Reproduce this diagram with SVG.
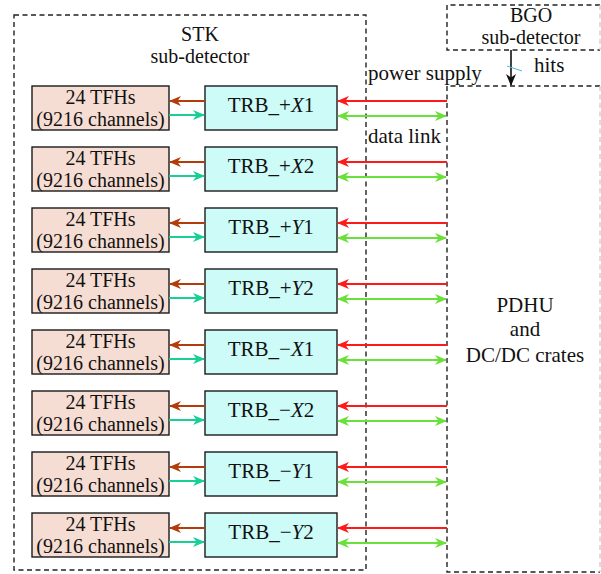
<svg xmlns="http://www.w3.org/2000/svg" width="601" height="574" viewBox="0 0 601 574" font-family="Liberation Serif, Times New Roman, Tinos, Noto Serif, DejaVu Serif, FreeSerif, serif">
  <style>
    text { font-family: "Liberation Serif", "Times New Roman", Tinos, "Noto Serif", "DejaVu Serif", FreeSerif, serif; font-size: 21px; fill: #111; }
    .c { text-anchor: middle; }
    .s { font-size: 20px; }
    .it { font-style: italic; }
    .dash { fill: none; stroke: #222; stroke-width: 1.4; stroke-dasharray: 5 3.5; }
    .dashlite { fill: none; stroke: #cfcfcf; stroke-width: 1.4; stroke-dasharray: 5 3.5; }
    .tfh { fill: #f6ddd3; stroke: #1a1a1a; stroke-width: 1.4; }
    .trb { fill: #cdfbf8; stroke: #1a1a1a; stroke-width: 1.4; }
    .ctrl { stroke: #b23c0a; stroke-width: 1.8; fill: none; }
    .hitl { stroke: #16d096; stroke-width: 1.8; fill: none; }
    .pwr { stroke: #ff1a1a; stroke-width: 1.8; fill: none; }
    .dat { stroke: #6ae03a; stroke-width: 1.8; fill: none; }
  </style>
  <defs>
    <marker id="aBrown" viewBox="0 0 12 10" refX="11" refY="5" markerWidth="12" markerHeight="10" markerUnits="userSpaceOnUse" orient="auto-start-reverse">
      <path d="M0,0 L12,5 L0,10 L3.5,5 z" fill="#b23c0a"/>
    </marker>
    <marker id="aTeal" viewBox="0 0 12 10" refX="11" refY="5" markerWidth="12" markerHeight="10" markerUnits="userSpaceOnUse" orient="auto-start-reverse">
      <path d="M0,0 L12,5 L0,10 L3.5,5 z" fill="#16d096"/>
    </marker>
    <marker id="aRed" viewBox="0 0 12 10" refX="11" refY="5" markerWidth="12" markerHeight="10" markerUnits="userSpaceOnUse" orient="auto-start-reverse">
      <path d="M0,0 L12,5 L0,10 L3.5,5 z" fill="#ff1a1a"/>
    </marker>
    <marker id="aGreen" viewBox="0 0 12 10" refX="11" refY="5" markerWidth="12" markerHeight="10" markerUnits="userSpaceOnUse" orient="auto-start-reverse">
      <path d="M0,0 L12,5 L0,10 L3.5,5 z" fill="#6ae03a"/>
    </marker>
    <marker id="aBlack" viewBox="0 0 12 10" refX="11" refY="5" markerWidth="12" markerHeight="10" markerUnits="userSpaceOnUse" orient="auto">
      <path d="M0,0 L12,5 L0,10 L3.5,5 z" fill="#111"/>
    </marker>
  </defs>

  <!-- STK sub-detector enclosure -->
  <g id="stk">
    <rect class="dash" x="14" y="15" width="352" height="555"/>
    <text class="c s" x="200" y="41">STK</text>
    <text class="c s" x="200" y="63">sub-detector</text>
  </g>

  <!-- BGO sub-detector -->
  <g id="bgo">
    <path class="dash" d="M600,5 H447 V50 H600"/>
    <path class="dashlite" d="M600,5 V50"/>
    <text class="c s" x="531" y="22">BGO</text>
    <text class="c s" x="531" y="44">sub-detector</text>
  </g>

  <!-- PDHU and DC/DC crates -->
  <g id="pdhu">
    <path class="dash" d="M600,86 H447 V572 H600"/>
    <path class="dashlite" d="M600,86 V572"/>
    <text class="c" x="525" y="312">PDHU</text>
    <text class="c" x="525" y="336">and</text>
    <text class="c" x="525" y="362">DC/DC crates</text>
  </g>

  <!-- TFH groups -->
  <g id="tfh1"><rect class="tfh" x="32" y="86" width="137" height="44"/><text class="c s" x="100.5" y="104">24 TFHs</text><text class="c s" x="100.5" y="126">(9216 channels)</text></g>
  <g id="tfh2"><rect class="tfh" x="32" y="147" width="137" height="44"/><text class="c s" x="100.5" y="165">24 TFHs</text><text class="c s" x="100.5" y="187">(9216 channels)</text></g>
  <g id="tfh3"><rect class="tfh" x="32" y="208" width="137" height="44"/><text class="c s" x="100.5" y="226">24 TFHs</text><text class="c s" x="100.5" y="248">(9216 channels)</text></g>
  <g id="tfh4"><rect class="tfh" x="32" y="269" width="137" height="44"/><text class="c s" x="100.5" y="287">24 TFHs</text><text class="c s" x="100.5" y="309">(9216 channels)</text></g>
  <g id="tfh5"><rect class="tfh" x="32" y="330" width="137" height="44"/><text class="c s" x="100.5" y="348">24 TFHs</text><text class="c s" x="100.5" y="370">(9216 channels)</text></g>
  <g id="tfh6"><rect class="tfh" x="32" y="391" width="137" height="44"/><text class="c s" x="100.5" y="409">24 TFHs</text><text class="c s" x="100.5" y="431">(9216 channels)</text></g>
  <g id="tfh7"><rect class="tfh" x="32" y="452" width="137" height="44"/><text class="c s" x="100.5" y="470">24 TFHs</text><text class="c s" x="100.5" y="492">(9216 channels)</text></g>
  <g id="tfh8"><rect class="tfh" x="32" y="513" width="137" height="44"/><text class="c s" x="100.5" y="531">24 TFHs</text><text class="c s" x="100.5" y="553">(9216 channels)</text></g>

  <!-- Tracker readout boards -->
  <g id="trb1"><rect class="trb" x="205" y="86" width="132" height="44"/><text class="c" x="271" y="112">TRB_+<tspan class="it">X</tspan>1</text></g>
  <g id="trb2"><rect class="trb" x="205" y="147" width="132" height="44"/><text class="c" x="271" y="173">TRB_+<tspan class="it">X</tspan>2</text></g>
  <g id="trb3"><rect class="trb" x="205" y="208" width="132" height="44"/><text class="c" x="271" y="234">TRB_+<tspan class="it">Y</tspan>1</text></g>
  <g id="trb4"><rect class="trb" x="205" y="269" width="132" height="44"/><text class="c" x="271" y="295">TRB_+<tspan class="it">Y</tspan>2</text></g>
  <g id="trb5"><rect class="trb" x="205" y="330" width="132" height="44"/><text class="c" x="271" y="356">TRB_−<tspan class="it">X</tspan>1</text></g>
  <g id="trb6"><rect class="trb" x="205" y="391" width="132" height="44"/><text class="c" x="271" y="417">TRB_−<tspan class="it">X</tspan>2</text></g>
  <g id="trb7"><rect class="trb" x="205" y="452" width="132" height="44"/><text class="c" x="271" y="478">TRB_−<tspan class="it">Y</tspan>1</text></g>
  <g id="trb8"><rect class="trb" x="205" y="513" width="132" height="44"/><text class="c" x="271" y="539">TRB_−<tspan class="it">Y</tspan>2</text></g>

  <!-- Connectors -->
  <g id="connectors">
    <!-- BGO hits to PDHU -->
    <path d="M511,50 V85" stroke="#111" stroke-width="1.6" fill="none" marker-end="url(#aBlack)"/>
    <path d="M507,66 L522,71" stroke="#4db8e8" stroke-width="1"/>

    <!-- row 1 -->
    <path class="ctrl" d="M205,101 H170" marker-end="url(#aBrown)"/>
    <path class="hitl" d="M169,115 H204" marker-end="url(#aTeal)"/>
    <path class="pwr" d="M447,101 H338" marker-end="url(#aRed)"/>
    <path class="dat" d="M338,116 H446" marker-start="url(#aGreen)" marker-end="url(#aGreen)"/>
    <!-- row 2 -->
    <path class="ctrl" d="M205,162 H170" marker-end="url(#aBrown)"/>
    <path class="hitl" d="M169,176 H204" marker-end="url(#aTeal)"/>
    <path class="pwr" d="M447,162 H338" marker-end="url(#aRed)"/>
    <path class="dat" d="M338,177 H446" marker-start="url(#aGreen)" marker-end="url(#aGreen)"/>
    <!-- row 3 -->
    <path class="ctrl" d="M205,223 H170" marker-end="url(#aBrown)"/>
    <path class="hitl" d="M169,237 H204" marker-end="url(#aTeal)"/>
    <path class="pwr" d="M447,223 H338" marker-end="url(#aRed)"/>
    <path class="dat" d="M338,238 H446" marker-start="url(#aGreen)" marker-end="url(#aGreen)"/>
    <!-- row 4 -->
    <path class="ctrl" d="M205,284 H170" marker-end="url(#aBrown)"/>
    <path class="hitl" d="M169,298 H204" marker-end="url(#aTeal)"/>
    <path class="pwr" d="M447,284 H338" marker-end="url(#aRed)"/>
    <path class="dat" d="M338,299 H446" marker-start="url(#aGreen)" marker-end="url(#aGreen)"/>
    <!-- row 5 -->
    <path class="ctrl" d="M205,345 H170" marker-end="url(#aBrown)"/>
    <path class="hitl" d="M169,359 H204" marker-end="url(#aTeal)"/>
    <path class="pwr" d="M447,345 H338" marker-end="url(#aRed)"/>
    <path class="dat" d="M338,360 H446" marker-start="url(#aGreen)" marker-end="url(#aGreen)"/>
    <!-- row 6 -->
    <path class="ctrl" d="M205,406 H170" marker-end="url(#aBrown)"/>
    <path class="hitl" d="M169,420 H204" marker-end="url(#aTeal)"/>
    <path class="pwr" d="M447,406 H338" marker-end="url(#aRed)"/>
    <path class="dat" d="M338,421 H446" marker-start="url(#aGreen)" marker-end="url(#aGreen)"/>
    <!-- row 7 -->
    <path class="ctrl" d="M205,467 H170" marker-end="url(#aBrown)"/>
    <path class="hitl" d="M169,481 H204" marker-end="url(#aTeal)"/>
    <path class="pwr" d="M447,467 H338" marker-end="url(#aRed)"/>
    <path class="dat" d="M338,482 H446" marker-start="url(#aGreen)" marker-end="url(#aGreen)"/>
    <!-- row 8 -->
    <path class="ctrl" d="M205,528 H170" marker-end="url(#aBrown)"/>
    <path class="hitl" d="M169,542 H204" marker-end="url(#aTeal)"/>
    <path class="pwr" d="M447,528 H338" marker-end="url(#aRed)"/>
    <path class="dat" d="M338,543 H446" marker-start="url(#aGreen)" marker-end="url(#aGreen)"/>
  </g>

  <!-- connector labels -->
  <g id="labels">
    <text x="368" y="80">power supply</text>
    <text x="368" y="143">data link</text>
    <text x="534" y="72">hits</text>
  </g>
</svg>
